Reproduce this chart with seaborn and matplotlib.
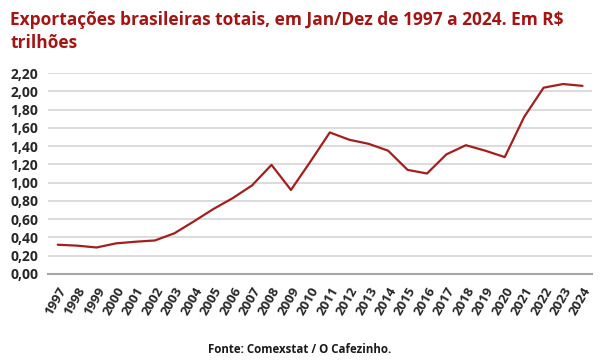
import matplotlib
matplotlib.use("Agg")
import matplotlib.pyplot as plt
import matplotlib.transforms as mtransforms
import seaborn as sns
import pandas as pd

sns.set_theme(style="white")
plt.rcParams['font.family'] = ['Open Sans', 'DejaVu Sans']

# dados (R$ trilhões)
anos = [str(a) for a in range(1997, 2025)]
valores = [0.32, 0.31, 0.29, 0.335, 0.353, 0.367, 0.445, 0.575, 0.71, 0.83,
           0.97, 1.195, 0.92, 1.23, 1.55, 1.47, 1.425, 1.35, 1.14, 1.10,
           1.31, 1.41, 1.35, 1.28, 1.72, 2.04, 2.08, 2.06]
yticks = [0.0, 0.2, 0.4, 0.6, 0.8, 1.0, 1.2, 1.4, 1.6, 1.8, 2.0, 2.2]

df = pd.DataFrame({'ano': anos, 'valor': valores})

fig = plt.figure(figsize=(6, 3.6), dpi=100)
ax = fig.add_axes([0.08, 0.239, 0.907, 0.558])

sns.lineplot(data=df, x='ano', y='valor', ax=ax, color='#A31F1F', linewidth=1.6, sort=False)

ax.set_xlim(-0.5, len(anos) - 0.5)
ax.set_ylim(0, 2.2)
ax.set_yticks(yticks)
ax.set_yticklabels([f'{v:.2f}'.replace('.', ',') for v in yticks],
                   fontsize=10, fontweight='bold', color='#262626')
ax.set_xticks(range(len(anos)))
ax.set_xticklabels(anos, rotation=60, ha='right', va='center', rotation_mode='anchor',
                   fontsize=9.5, fontweight='bold', color='#262626')
ax.tick_params(axis='y', length=0, pad=7)
ax.tick_params(axis='x', length=0, pad=10)
# desloca os rótulos do eixo x um pouco para a direita
desloc = mtransforms.ScaledTranslation(4 / 72, 0, fig.dpi_scale_trans)
for lbl in ax.get_xticklabels():
    lbl.set_transform(lbl.get_transform() + desloc)
ax.set_xlabel('')
ax.set_ylabel('')

for v in yticks[1:]:
    ax.axhline(v, color='#D9D9D9', linewidth=1.3, zorder=0)
for s in ['top', 'right', 'left']:
    ax.spines[s].set_visible(False)
ax.spines['bottom'].set_color('#A6A6A6')
ax.spines['bottom'].set_linewidth(1.5)

fig.text(0.017, 0.97, 'Exportações brasileiras totais, em Jan/Dez de 1997 a 2024. Em R$\ntrilhões',
         ha='left', va='top', fontsize=12.5, fontweight='bold', color='#A31515', linespacing=1.4)
fig.text(0.5, 0.03, 'Fonte: Comexstat / O Cafezinho.', ha='center', va='center',
         fontsize=8.3, fontweight='bold', color='#1a1a1a')

fig.savefig('out.png', dpi=100)
